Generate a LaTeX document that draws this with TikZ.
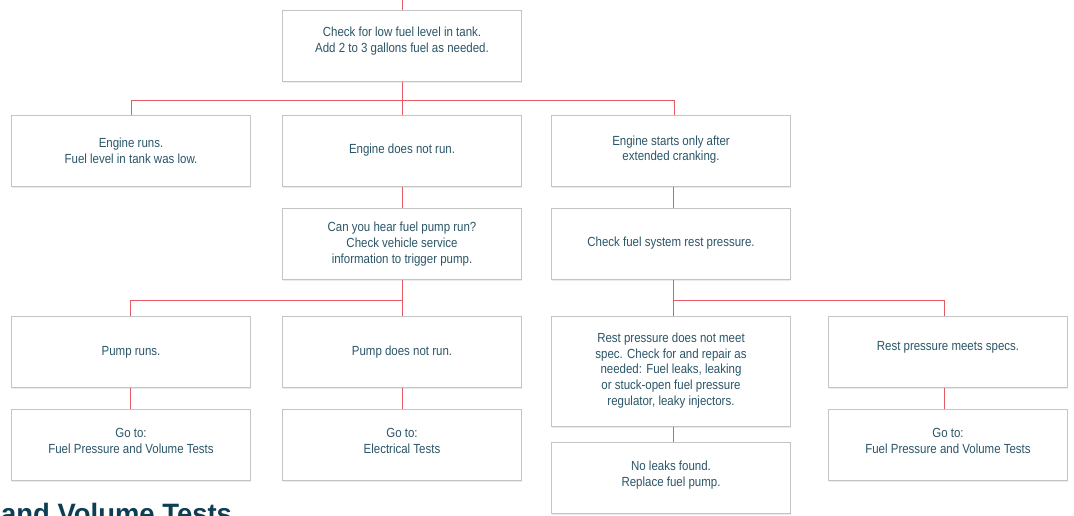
\documentclass[tikz,border=0pt]{standalone}
\usepackage{fontspec}
\setmainfont{Liberation Sans}
\newfontfamily\boxfont[FakeStretch=0.87]{Liberation Sans}
\newfontfamily\headfont[FakeStretch=0.98]{Liberation Sans}
\usetikzlibrary{shadows}
\definecolor{textc}{HTML}{2B5668}
\definecolor{headc}{HTML}{0E3E54}
\definecolor{linec}{HTML}{E65A64}
\definecolor{borderc}{HTML}{C4C4C4}
\begin{document}
\begin{tikzpicture}[x=1pt,y=-1pt,
  box/.style={draw=borderc, line width=1pt, fill=white, minimum width=239pt, minimum height=71pt,
    inner sep=0pt, drop shadow={shadow xshift=0pt, shadow yshift=-1.5pt, opacity=0.08, fill=black}},
  boxtext/.style={inner sep=0pt, align=center, text=textc, font=\boxfont\fontsize{13.2}{15.7}\selectfont},
  conn/.style={draw=linec, line width=1pt}]
\useasboundingbox (0,0) rectangle (1074,515);
\clip (0,0) rectangle (1074,515);
\fill[white] (0,0) rectangle (1074,515);

\node[box] (top) at (402,46) {};
\node[box] (r2a) at (131,151) {};
\node[box] (r2b) at (402,151) {};
\node[box] (r2c) at (671,151) {};
\node[box] (r3b) at (402,244) {};
\node[box] (r3c) at (671,244) {};
\node[box] (r4a) at (131,352) {};
\node[box] (r4b) at (402,352) {};
\node[box, minimum height=110pt] (r4c) at (671,371.5) {};
\node[box] (r4d) at (948,352) {};
\node[box] (r5a) at (131,445) {};
\node[box] (r5b) at (402,445) {};
\node[box] (r5c) at (671,478) {};
\node[box] (r5d) at (948,445) {};

\node[boxtext] (topt) at ([yshift=5pt]top.center) {Check for low fuel level in tank.\\Add 2 to 3 gallons fuel as needed.};
\node[boxtext] (r2at) at (r2a.center) {Engine runs.\\Fuel level in tank was low.};
\node[boxtext] (r2bt) at ([yshift=1pt]r2b.center) {Engine does not run.};
\node[boxtext] (r2ct) at ([yshift=1.5pt]r2c.center) {Engine starts only after\\extended cranking.};
\node[boxtext] (r3bt) at (r3b.center) {Can you hear fuel pump run?\\Check vehicle service\\information to trigger pump.};
\node[boxtext] (r3ct) at ([yshift=1pt]r3c.center) {Check fuel system rest pressure.};
\node[boxtext] (r4at) at (r4a.center) {Pump runs.};
\node[boxtext] (r4bt) at (r4b.center) {Pump does not run.};
\node[boxtext] (r4ct) at ([yshift=1pt]r4c.center) {Rest pressure does not meet\\spec. Check for and repair as\\needed: Fuel leaks, leaking\\or stuck-open fuel pressure\\regulator, leaky injectors.};
\node[boxtext] (r4dt) at ([yshift=5pt]r4d.center) {Rest pressure meets specs.};
\node[boxtext] (r5at) at ([yshift=4pt]r5a.center) {Go to:\\Fuel Pressure and Volume Tests};
\node[boxtext] (r5bt) at ([yshift=4pt]r5b.center) {Go to:\\Electrical Tests};
\node[boxtext] (r5ct) at ([yshift=3pt]r5c.center) {No leaks found.\\Replace fuel pump.};
\node[boxtext] (r5dt) at ([yshift=4pt]r5d.center) {Go to:\\Fuel Pressure and Volume Tests};

\coordinate (t0) at (402,0);
\coordinate (b1) at (402,100.5);
\coordinate (b2) at (402,300.5);
\coordinate (b3) at (673,300.5);

\draw[conn] (t0) -- (top.north);
\draw[conn] (top.south) -- (b1);
\draw[conn] (b1) -| (r2a.north);
\draw[conn] (b1) -- (r2b.north);
\draw[conn] (b1) -| ([xshift=3pt]r2c.north);
\draw[conn] ([xshift=2pt]r2c.south) -- ([xshift=2pt]r3c.north);
\draw[conn] (r2b.south) -- (r3b.north);
\draw[conn] (r3b.south) -- (b2);
\draw[conn] (b2) -| ([xshift=-1pt]r4a.north);
\draw[conn] (b2) -- (r4b.north);
\draw[conn] ([xshift=2pt]r3c.south) -- (b3);
\draw[conn] (b3) -| ([xshift=-4pt]r4d.north);
\draw[conn] (b3) -- ([xshift=2pt]r4c.north);
\draw[conn] ([xshift=-1pt]r4a.south) -- ([xshift=-1pt]r5a.north);
\draw[conn] (r4b.south) -- (r5b.north);
\draw[conn] ([xshift=2pt]r4c.south) -- ([xshift=2pt]r5c.north);
\draw[conn] ([xshift=-4pt]r4d.south) -- ([xshift=-4pt]r5d.north);

\node[anchor=base west, inner sep=0pt, text=headc, font=\headfont\bfseries\fontsize{28}{30}\selectfont] (head) at (1,523) {and Volume Tests};
\end{tikzpicture}
\end{document}
